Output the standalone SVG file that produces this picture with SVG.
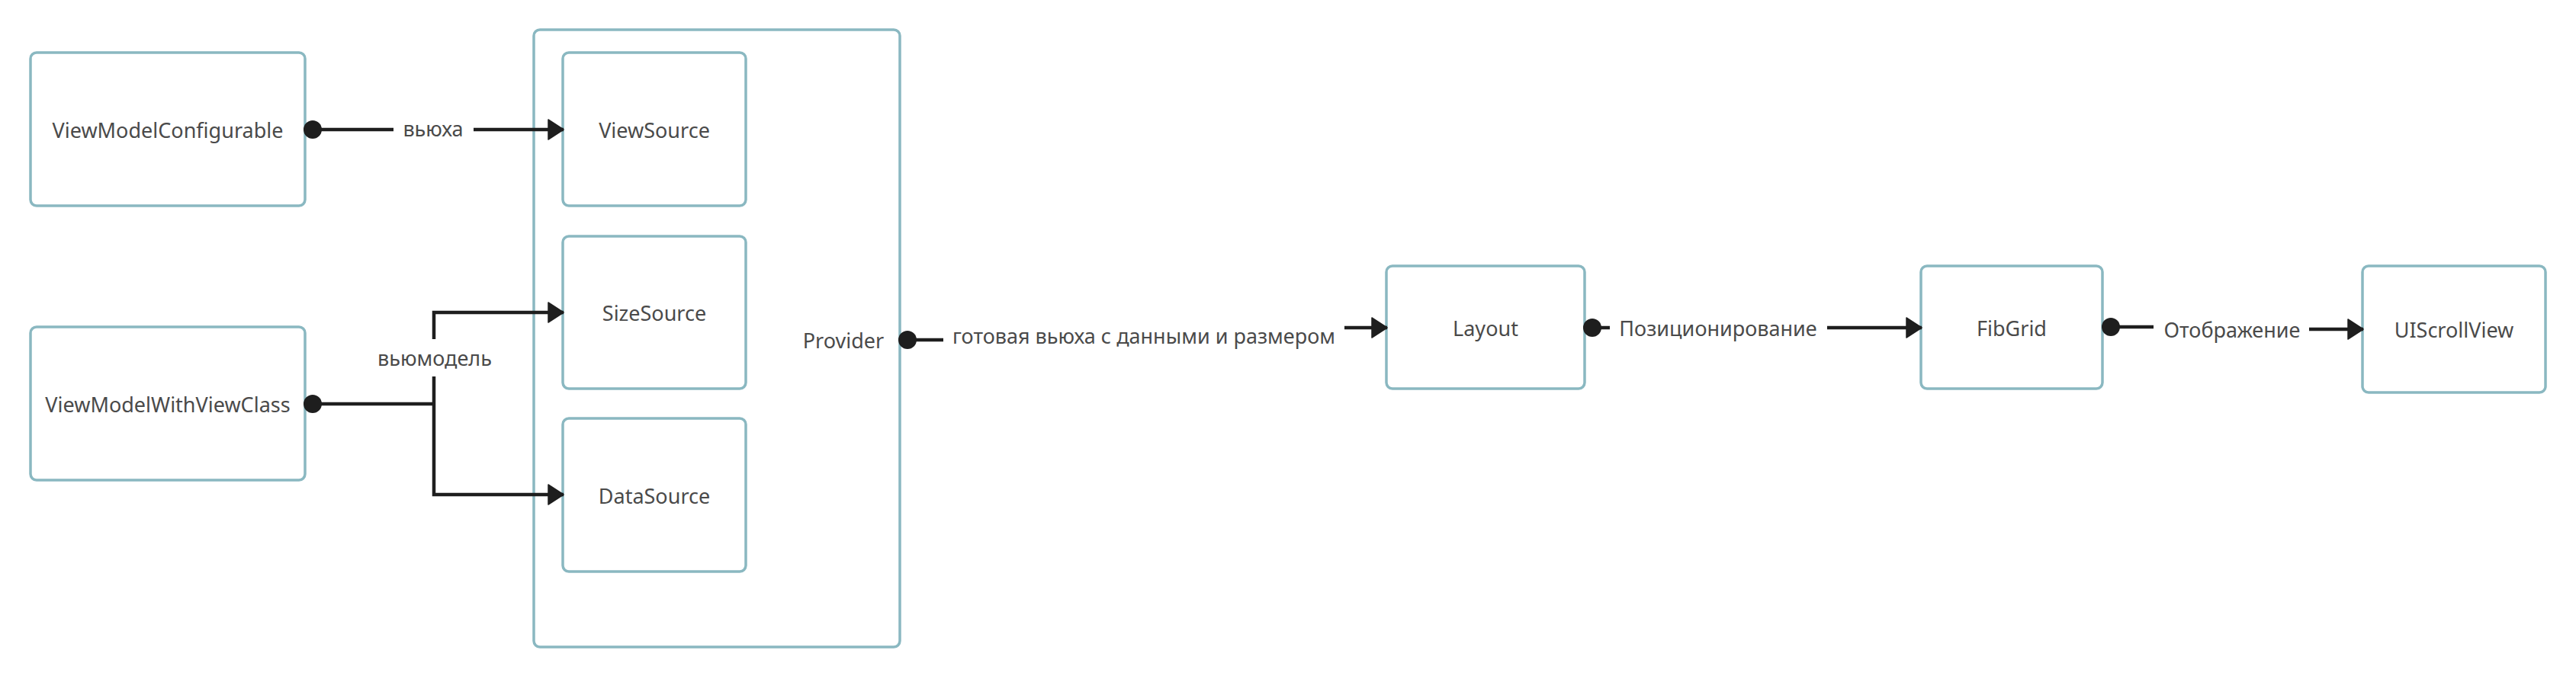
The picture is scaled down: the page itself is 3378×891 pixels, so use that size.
<svg xmlns="http://www.w3.org/2000/svg" width="3378" height="891" viewBox="0 0 3378 891">
<defs>
<style>
.node rect{fill:#ffffff;stroke:#8ab8c1;stroke-width:3.5}
.lbl{font-family:"Noto Sans","Open Sans","DejaVu Sans",sans-serif;font-size:27px;fill:#4a4a4a;text-anchor:middle;dominant-baseline:central}
.elbl{font-family:"Noto Sans","Open Sans","DejaVu Sans",sans-serif;font-size:27px;fill:#4a4a4a;text-anchor:middle;dominant-baseline:central}
.edge{stroke:#1e1e1e;stroke-width:4.5;fill:none}
.dot{fill:#1e1e1e}
</style>
<marker id="arrow" markerUnits="userSpaceOnUse" markerWidth="22" markerHeight="28" refX="21" refY="14" orient="auto">
<path d="M1,1 L21,14 L1,27 Z" fill="#1e1e1e" stroke="#1e1e1e" stroke-width="1.5" stroke-linejoin="round"/>
</marker>
</defs>
<rect width="3378" height="891" fill="#ffffff"/>

<g id="Provider" class="node">
<rect x="700" y="39" width="480" height="810" rx="8"/>
<text class="lbl" x="1106" y="446">Provider</text>
</g>
<g id="ViewModelConfigurable" class="node">
<rect x="40" y="69" width="360" height="201" rx="8"/>
<text class="lbl" x="220" y="170">ViewModelConfigurable</text>
</g>
<g id="ViewModelWithViewClass" class="node">
<rect x="40" y="429" width="360" height="201" rx="8"/>
<text class="lbl" x="220" y="530">ViewModelWithViewClass</text>
</g>
<g id="ViewSource" class="node">
<rect x="738" y="69" width="240" height="201" rx="8"/>
<text class="lbl" x="858" y="170">ViewSource</text>
</g>
<g id="SizeSource" class="node">
<rect x="738" y="310" width="240" height="200" rx="8"/>
<text class="lbl" x="858" y="410">SizeSource</text>
</g>
<g id="DataSource" class="node">
<rect x="738" y="549" width="240" height="201" rx="8"/>
<text class="lbl" x="858" y="650">DataSource</text>
</g>
<g id="Layout" class="node">
<rect x="1818" y="349" width="260" height="161" rx="8"/>
<text class="lbl" x="1948" y="430">Layout</text>
</g>
<g id="FibGrid" class="node">
<rect x="2519" y="349" width="238" height="161" rx="8"/>
<text class="lbl" x="2638" y="430">FibGrid</text>
</g>
<g id="UIScrollView" class="node">
<rect x="3098" y="349" width="240" height="166" rx="8"/>
<text class="lbl" x="3218" y="432">UIScrollView</text>
</g>

<g id="connectors">
<!-- ViewModelConfigurable -> ViewSource -->
<line class="edge" x1="410" y1="170" x2="516" y2="170"/>
<line class="edge" x1="621" y1="170" x2="739" y2="170" marker-end="url(#arrow)"/>
<circle class="dot" cx="410" cy="170" r="12"/>
<text class="elbl" x="568" y="168">вьюха</text>

<!-- ViewModelWithViewClass -> SizeSource / DataSource -->
<line class="edge" x1="410" y1="530" x2="569" y2="530"/>
<path class="edge" d="M569,445 L569,410 L739,410" marker-end="url(#arrow)"/>
<path class="edge" d="M569,494 L569,649 L739,649" marker-end="url(#arrow)"/>
<circle class="dot" cx="410" cy="530" r="12"/>
<text class="elbl" x="570" y="469">вьюмодель</text>

<!-- Provider -> Layout -->
<line class="edge" x1="1190" y1="446" x2="1237" y2="446"/>
<line class="edge" x1="1763" y1="430" x2="1819" y2="430" marker-end="url(#arrow)"/>
<circle class="dot" cx="1190" cy="446" r="12"/>
<text class="elbl" x="1500" y="440">готовая вьюха с данными и размером</text>

<!-- Layout -> FibGrid -->
<line class="edge" x1="2088" y1="430" x2="2111" y2="430"/>
<line class="edge" x1="2396" y1="430" x2="2520" y2="430" marker-end="url(#arrow)"/>
<circle class="dot" cx="2088" cy="430" r="12"/>
<text class="elbl" x="2253" y="430">Позиционирование</text>

<!-- FibGrid -> UIScrollView -->
<line class="edge" x1="2768" y1="429" x2="2824" y2="429"/>
<line class="edge" x1="3028" y1="432" x2="3099" y2="432" marker-end="url(#arrow)"/>
<circle class="dot" cx="2768" cy="429" r="12"/>
<text class="elbl" x="2927" y="432">Отображение</text>
</g>
</svg>
